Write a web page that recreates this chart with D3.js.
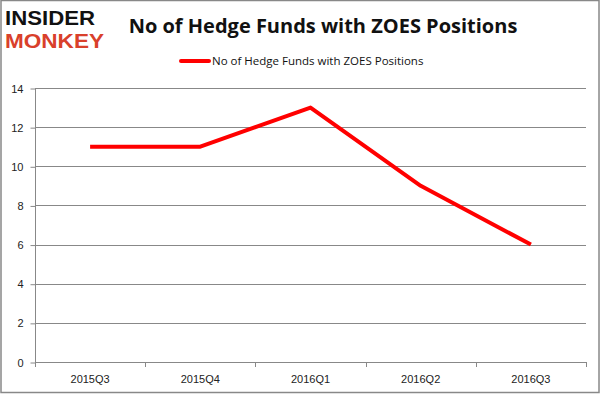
<!DOCTYPE html>
<html>
<head>
<meta charset="utf-8">
<script src="https://cdn.jsdelivr.net/npm/d3@7"></script>
<style>
    body { margin: 0; background: #fff; }
    svg { display: block; font-family: 'Open Sans', 'DejaVu Sans', sans-serif; }
</style>
</head>
<body>
<div id="chart"></div>
<script>
// Data
const quarters = ['2015Q3', '2015Q4', '2016Q1', '2016Q2', '2016Q3'];
const hedgeFunds = [11, 11, 13, 9, 6];
const yTicks = [0, 2, 4, 6, 8, 10, 12, 14];
const seriesName = 'No of Hedge Funds with ZOES Positions';

const width = 601;
const height = 397;
const margin = { top: 88, right: 15, bottom: 35, left: 35 };

const svg = d3.select('#chart')
    .append('svg')
    .attr('width', width)
    .attr('height', height);

// outer frame
svg.append('rect')
    .attr('x', 1)
    .attr('y', 0.5)
    .attr('width', width - 3)
    .attr('height', height - 5)
    .attr('fill', 'none')
    .attr('stroke', '#888')
    .attr('stroke-width', 1.5);

const xScale = d3.scaleBand()
    .domain(quarters)
    .range([margin.left, width - margin.right])
    .padding(0);

const yScale = d3.scaleLinear()
    .domain([0, 14])
    .range([height - margin.bottom, margin.top]);

// horizontal grid
svg.append('g')
    .selectAll('line')
    .data(yTicks)
    .join('line')
    .attr('x1', margin.left)
    .attr('x2', width - margin.right)
    .attr('y1', d => Math.round(yScale(d)) + 0.5)
    .attr('y2', d => Math.round(yScale(d)) + 0.5)
    .attr('stroke', '#888')
    .attr('stroke-width', 1);

// y axis
const yAxis = svg.append('g')
    .attr('transform', 'translate(' + (margin.left + 0.5) + ',0.5)')
    .call(d3.axisLeft(yScale).tickValues(yTicks).tickSize(5).tickPadding(7).tickFormat(d3.format('d')));

yAxis.select('.domain').attr('stroke', '#888').attr('d', 'M0,' + yScale(14) + 'V' + yScale(0));
yAxis.selectAll('.tick line').attr('stroke', '#888');
yAxis.selectAll('text')
    .style('font-size', '11px')
    .attr('fill', '#222');

// x axis
const xAxis = svg.append('g')
    .attr('transform', 'translate(0,' + (Math.round(yScale(0)) + 0.5) + ')')
    .call(d3.axisBottom(xScale).tickSize(0).tickPadding(13));

xAxis.select('.domain').remove();
xAxis.selectAll('text')
    .style('font-size', '11px')
    .attr('fill', '#222');

// category boundary ticks
svg.append('g')
    .selectAll('line')
    .data(quarters.concat(['end']))
    .join('line')
    .attr('x1', (d, i) => Math.round(i < quarters.length ? xScale(d) : xScale.range()[1]) + 0.5)
    .attr('x2', (d, i) => Math.round(i < quarters.length ? xScale(d) : xScale.range()[1]) + 0.5)
    .attr('y1', Math.round(yScale(0)))
    .attr('y2', Math.round(yScale(0)) + 5)
    .attr('stroke', '#888');

// line
const line = d3.line()
    .x((d, i) => xScale(quarters[i]) + xScale.bandwidth() / 2)
    .y(d => yScale(d));

svg.append('path')
    .datum(hedgeFunds)
    .attr('fill', 'none')
    .attr('stroke', '#ff0000')
    .attr('stroke-width', 4)
    .attr('stroke-linejoin', 'round')
    .attr('d', line);

// title
svg.append('text')
    .attr('x', 323)
    .attr('y', 33)
    .attr('text-anchor', 'middle')
    .style('font-size', '20px')
    .style('font-weight', 'bold')
    .attr('fill', '#111')
    .text(seriesName);

// legend
svg.append('line')
    .attr('x1', 181)
    .attr('x2', 209)
    .attr('y1', 61)
    .attr('y2', 61)
    .attr('stroke', '#ff0000')
    .attr('stroke-width', 4)
    .attr('stroke-linecap', 'round');

svg.append('text')
    .attr('x', 212)
    .attr('y', 65)
    .style('font-size', '11.5px')
    .attr('fill', '#111')
    .text(seriesName);

// logo
svg.append('text')
    .attr('x', 5)
    .attr('y', 25)
    .style('font-size', '20px')
    .style('font-weight', 'bold')
    .style('font-family', 'Liberation Sans, Arial, sans-serif')
    .attr('textLength', 90)
    .attr('lengthAdjust', 'spacingAndGlyphs')
    .attr('fill', '#111')
    .text('INSIDER');

svg.append('text')
    .attr('x', 5)
    .attr('y', 48)
    .style('font-size', '20px')
    .style('font-weight', 'bold')
    .style('font-family', 'Liberation Sans, Arial, sans-serif')
    .attr('textLength', 99)
    .attr('lengthAdjust', 'spacingAndGlyphs')
    .attr('fill', '#d9402b')
    .text('MONKEY');
</script>
</body>
</html>
